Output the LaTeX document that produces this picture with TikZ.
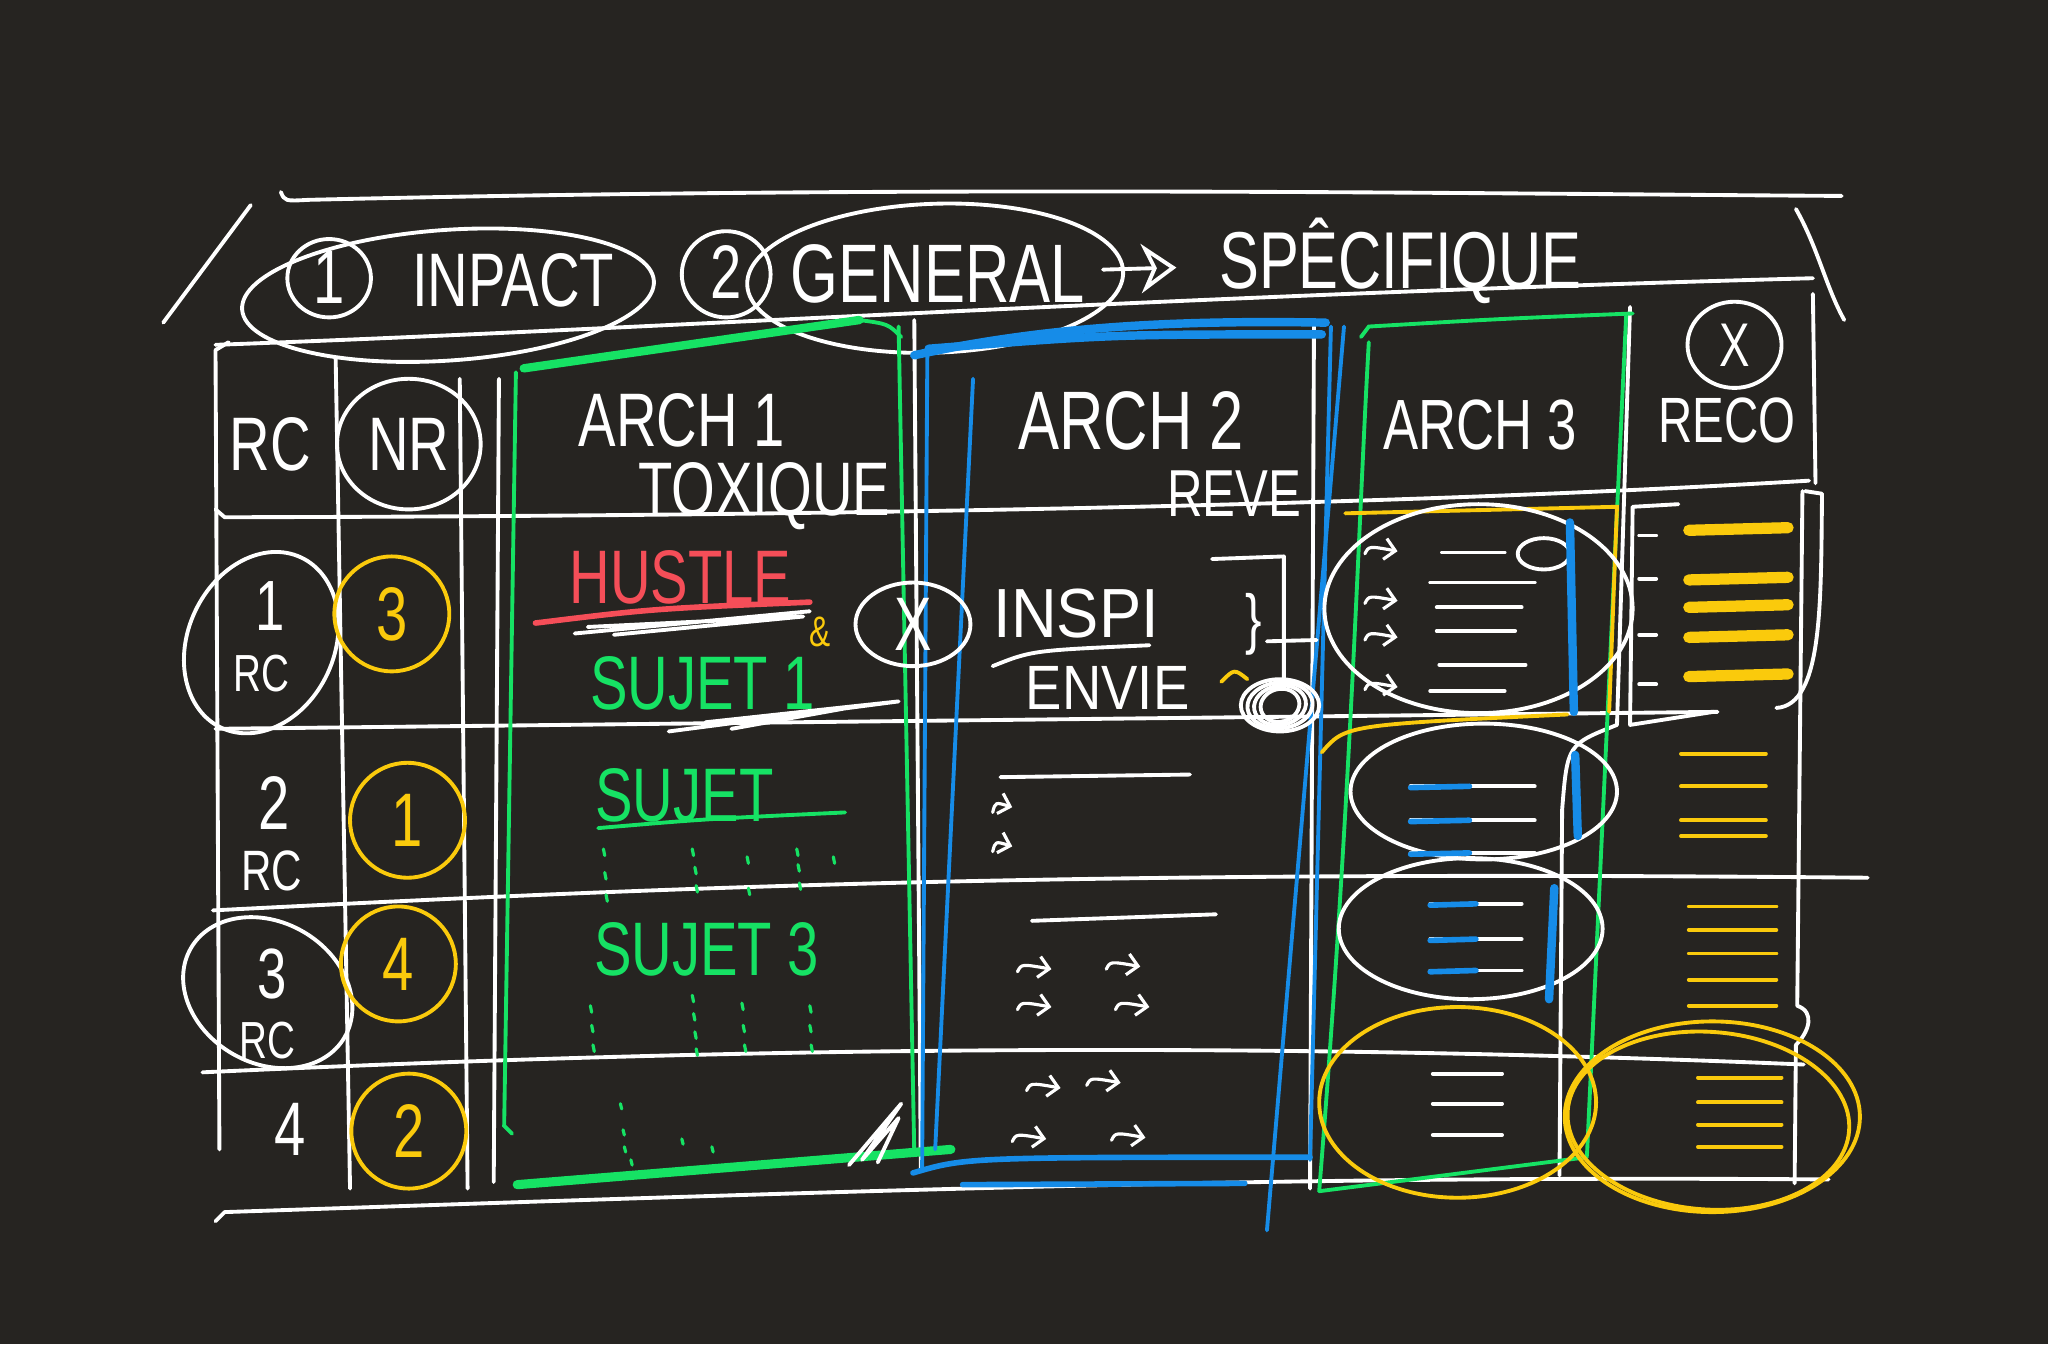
\documentclass[tikz,border=0pt]{standalone}
\usepackage{fontspec}
\setmainfont{Liberation Sans}
\usetikzlibrary{arrows.meta}
\definecolor{board}{RGB}{38,36,33}
\definecolor{pengreen}{RGB}{22,226,100}
\definecolor{penblue}{RGB}{22,140,232}
\definecolor{penyellow}{RGB}{250,202,12}
\definecolor{penred}{RGB}{245,78,88}
\newcommand{\tall}[1]{\scalebox{1}[1.35]{#1}}

\begin{document}
\begin{tikzpicture}[
        x=0.013061cm, y=-0.013061cm,
        chalk/.style={draw=white, line width=1.1pt, line cap=round, line join=round},
        greenpen/.style={draw=pengreen, line width=1.1pt, line cap=round},
        bluepen/.style={draw=penblue, line width=1.1pt, line cap=round},
        yellowpen/.style={draw=penyellow, line width=1.1pt, line cap=round},
        hook/.style={chalk, line width=0.9pt, -{Straight Barb[length=3pt, width=6pt]}}]

    \tikzstyle{every node}=[text=white, inner sep=0pt, font=\fontsize{16}{16}\selectfont]

    \fill[board] (0,0) rectangle (1568,1029);
    \useasboundingbox (0,0) rectangle (1568,1029);

    % header band
    \draw[chalk] (215,147) .. controls (218,154) .. (236,153) .. controls (700,142) and (1100,148) .. (1410,150);
    \draw[chalk] (125,247) -- (192,157);
    \draw[chalk] (1375,160) .. controls (1392,190) and (1398,220) .. (1412,245);
    \draw[chalk] (165,264) .. controls (500,252) and (900,226) .. (1388,213);

    \node (one) at (252,212) {\tall{1}};
    \draw[chalk] (252,213) ellipse [x radius=32, y radius=30];
    \node (impact) at (393,215) {\tall{INPACT}};
    \draw[chalk, rotate around={4:(343,226)}] (343,226) ellipse [x radius=158, y radius=50];
    \node (two) at (556,208) {\tall{2}};
    \draw[chalk] (556,210) ellipse [x radius=34, y radius=33];
    \node[font=\fontsize{17.5}{17.5}\selectfont] (general) at (718,210) {\tall{GENERAL}};
    \draw[chalk, rotate around={2:(716,213)}] (716,213) ellipse [x radius=144, y radius=57];
    \node[font=\fontsize{17}{17}\selectfont] (specific) at (1072,200) {\tall{SPÊCIFIQUE}};
    \draw[chalk, shorten <=5pt, shorten >=12pt, -{Stealth[open, length=10pt, width=14pt]}] (general) -- (specific);

    % grid
    \draw[chalk] (175,262) -- (165,268) -- (168,880);
    \draw[chalk] (257,275) -- (268,910);
    \draw[chalk] (352,290) -- (358,910);
    \draw[chalk] (382,290) -- (378,905);
    \draw[chalk] (700,245) -- (705,895);
    \draw[chalk] (1006,250) -- (1003,910);
    \draw[chalk] (1248,235) -- (1238,555) .. controls (1200,570) .. (1196,620) -- (1194,900);
    \draw[chalk] (1388,225) -- (1390,370);
    \draw[chalk] (1380,376) -- (1376,770) .. controls (1390,775) and (1385,790) .. (1375,800) -- (1374,906);
    \draw[chalk] (165,390) -- (172,396) .. controls (700,395) and (1100,385) .. (1385,368);
    \draw[chalk] (165,558) -- (1315,545);
    \draw[chalk] (163,697) .. controls (500,680) and (800,666) .. (1430,672);
    \draw[chalk] (155,821) .. controls (500,805) and (900,795) .. (1381,815);
    \draw[chalk] (165,935) -- (172,928) .. controls (700,910) and (1000,900) .. (1400,903);

    % column titles
    \node (rc) at (207,340) {\tall{RC}};
    \node (nr) at (313,340) {\tall{NR}};
    \draw[chalk] (313,340) ellipse [x radius=55, y radius=50];
    \node (arch1) at (522,322) {\tall{ARCH 1}};
    \node (toxic) at (585,380) {\tall{TOXIQUE}};
    \node[font=\fontsize{17.5}{17.5}\selectfont] (arch2) at (866,322) {\tall{ARCH 2}};
    \node[font=\fontsize{14}{14}\selectfont] (dream) at (945,378) {\tall{REVE}};
    \node[font=\fontsize{15}{15}\selectfont] (arch3) at (1133,325) {\tall{ARCH 3}};
    \node[font=\fontsize{13.5}{13.5}\selectfont] (reco) at (1322,322) {\tall{RECO}};
    \node[font=\fontsize{13}{13}\selectfont] (recox) at (1328,264) {\tall{X}};
    \draw[chalk] (1328,264) ellipse [x radius=36, y radius=33];

    % RC column
    \node[font=\fontsize{15}{15}\selectfont] (rc1) at (207,464) {\tall{1}};
    \node[font=\fontsize{11}{11}\selectfont] (rc1b) at (200,516) {\tall{RC}};
    \draw[chalk, rotate around={-25:(200,492)}] (200,492) ellipse [x radius=56, y radius=72];
    \node (rc2) at (210,615) {\tall{2}};
    \node[font=\fontsize{12}{12}\selectfont] (rc2b) at (208,667) {\tall{RC}};
    \node[font=\fontsize{15}{15}\selectfont] (rc3) at (208,746) {\tall{3}};
    \node[font=\fontsize{11}{11}\selectfont] (rc3b) at (205,797) {\tall{RC}};
    \draw[chalk, rotate around={-30:(205,760)}] (205,760) ellipse [x radius=68, y radius=54];
    \node (rc4) at (222,865) {\tall{4}};

    % NR column
    \foreach \xx/\yy/\num in {300/470/3, 312/628/1, 305/738/4, 313/866/2} {
        \node[text=penyellow] (nr\num) at (\xx,\yy) {\tall{\num}};
        \draw[yellowpen] (\xx,\yy) ellipse [x radius=44, y radius=44];
    }

    % arch 1 box
    \draw[greenpen, line width=2.4pt] (401,282) -- (658,245);
    \draw[greenpen] (658,245) .. controls (680,248) .. (690,258);
    \draw[greenpen] (395,285) -- (386,862) -- (392,868);
    \draw[greenpen] (688,250) -- (700,883);
    \draw[greenpen, line width=2.6pt] (396,907) -- (728,880);

    \node[text=penred] (hustle) at (521,442) {\tall{HUSTLE}};
    \draw[draw=penred, line width=1.6pt, line cap=round] (410,477) .. controls (500,466) .. (620,461);
    \draw[chalk] (440,485) -- (620,468) (450,480) -- (615,472) -- (470,486);
    \node[text=penyellow, font=\fontsize{9}{9}\selectfont] (amp) at (628,484) {\tall{\&}};
    \node[text=pengreen] (subj1) at (538,523) {\tall{SUJET 1}};
    \draw[chalk] (512,560) -- (688,537) -- (540,553) -- (660,540) -- (560,558);
    \node[text=pengreen] (subj2) at (524,609) {\tall{SUJET}};
    \draw[greenpen] (458,634) .. controls (540,627) .. (647,622);
    \foreach \xx/\yy in {462/650, 463/668, 464/685, 530/650, 532/664, 533/678, 572/656, 573/680, 610/650, 611/662, 612/676, 638/656}
        \draw[greenpen, line width=0.9pt] (\xx,\yy) -- ++(1,5);
    \node[text=pengreen] (subj3) at (541,727) {\tall{SUJET 3}};
    \foreach \xx/\yy in {452/770, 453/785, 454/800, 530/762, 531/776, 532/790, 533/803, 568/768, 569/785, 570/800, 620/770, 620/785, 621/800}
        \draw[greenpen, line width=0.9pt] (\xx,\yy) -- ++(1,5);
    \foreach \xx/\yy in {475/845, 477/865, 478/878, 483/888, 522/872, 545/878}
        \draw[greenpen, line width=0.9pt] (\xx,\yy) -- ++(1,4);
    \draw[chalk] (650,892) -- (690,845) -- (660,888) -- (688,856) -- (672,890);

    % arch 2 box
    \draw[bluepen, line width=2.4pt] (700,272) .. controls (800,250) and (900,245) .. (1015,247);
    \draw[bluepen, line width=2.4pt] (711,267) .. controls (850,256) .. (1012,256);
    \draw[bluepen] (710,270) -- (706,895);
    \draw[bluepen] (745,290) -- (716,880);
    \draw[bluepen] (1019,250) -- (1003,888);
    \draw[bluepen] (1029,250) -- (970,942);
    \draw[bluepen, line width=1.6pt] (699,898) .. controls (740,886) .. (1003,886);
    \draw[bluepen, line width=1.6pt] (737,907) -- (953,906);

    \node (cross) at (699,478) {\tall{X}};
    \draw[chalk] (699,478) ellipse [x radius=44, y radius=32];
    \node[font=\fontsize{18}{18}\selectfont] (inspi) at (824,470) {\scalebox{1}[1.1]{INSPI}};
    \draw[chalk] (760,510) .. controls (790,498) .. (880,494);
    \node[font=\fontsize{15.5}{15.5}\selectfont] (envy) at (848,527) {\scalebox{1}[1.15]{ENVIE}};
    \draw[chalk] (928,428) -- (983,426) -- (983,522);
    \node[font=\fontsize{14}{14}\selectfont] (brace) at (960,478) {\tall{\}}};
    \draw[chalk] (970,491) -- (1008,490);
    \draw[yellowpen] (935,522) .. controls (945,512) .. (955,520);
    \foreach \rr in {0,5,10,15}
        \draw[chalk, rotate around={\rr:(980,540)}] (980,540) ellipse [x radius={30-\rr}, y radius={20-\rr/2}];
    \draw[chalk] (766,595) -- (911,593);
    \draw[hook] (760,622) .. controls (762,614) .. (775,618);
    \draw[hook] (760,652) .. controls (762,644) .. (775,648);
    \draw[chalk] (790,705) -- (931,700);
    \foreach \xx/\yy in {779/744, 847/742, 779/773, 854/773, 786/835, 832/831, 775/874, 851/873}
        \draw[hook] (\xx,\yy) .. controls (\xx+3,\yy-6) .. (\xx+26,\yy-2);

    % arch 3 box
    \draw[greenpen] (1042,258) -- (1048,250) .. controls (1150,244) .. (1250,240);
    \draw[greenpen] (1048,262) .. controls (1040,400) and (1035,600) .. (1010,912);
    \draw[greenpen] (1245,242) -- (1215,885);
    \draw[greenpen] (1010,912) -- (1215,886);
    \draw[yellowpen] (1030,393) -- (1238,388) -- (1232,545);
    \draw[yellowpen] (1012,576) .. controls (1030,555) .. (1200,547);

    \draw[chalk] (1132,466) ellipse [x radius=118, y radius=80];
    \draw[chalk] (1182,424) ellipse [x radius=20, y radius=12];
    \foreach \yy/\xa/\xb in {423/1104/1152, 446/1095/1175, 465/1100/1165, 483/1100/1160, 509/1102/1168, 529/1095/1152}
        \draw[chalk] (\xa,\yy) -- (\xb,\yy);
    \foreach \yy in {424, 462, 490, 528}
        \draw[hook] (1045,\yy) .. controls (1048,\yy-6) .. (1070,\yy-2);
    \draw[bluepen, line width=2.4pt] (1202,400) -- (1205,545);

    \draw[chalk] (1136,606) ellipse [x radius=102, y radius=52];
    \foreach \yy in {602, 628, 653} {
        \draw[chalk] (1080,\yy) -- (1175,\yy);
        \draw[bluepen, line width=1.6pt] (1080,\yy+1) -- (1125,\yy);
    }
    \draw[bluepen, line width=2.4pt] (1206,578) -- (1208,640);

    \draw[chalk] (1126,711) ellipse [x radius=101, y radius=54];
    \foreach \yy in {692, 719, 743} {
        \draw[chalk] (1095,\yy) -- (1165,\yy);
        \draw[bluepen, line width=1.6pt] (1095,\yy+1) -- (1130,\yy);
    }
    \draw[bluepen, line width=2.4pt] (1190,680) -- (1186,765);

    \draw[yellowpen] (1116,844) ellipse [x radius=106, y radius=73];
    \foreach \yy in {822, 845, 869}
        \draw[chalk] (1097,\yy) -- (1150,\yy);

    % reco column
    \draw[chalk] (1285,386) -- (1250,388) -- (1248,555) -- (1312,545);
    \draw[chalk] (1382,376) -- (1395,378) .. controls (1394,460) and (1396,540) .. (1360,542);
    \foreach \yy in {410, 443, 486, 524}
        \draw[chalk] (1255,\yy) -- (1268,\yy);
    \foreach \yy in {406, 444, 465, 488, 518}
        \draw[yellowpen, line width=3.2pt] (1293,\yy) -- (1369,\yy-2);
    \foreach \yy in {577, 602, 628, 640}
        \draw[yellowpen] (1287,\yy) -- (1352,\yy);
    \foreach \yy in {694, 712, 730, 750, 770}
        \draw[yellowpen] (1293,\yy) -- (1360,\yy);
    \foreach \yy in {825, 844, 861, 878}
        \draw[yellowpen] (1300,\yy) -- (1364,\yy);
    \draw[yellowpen] (1311,855) ellipse [x radius=113, y radius=73];
    \draw[yellowpen, rotate around={-4:(1308,858)}] (1308,858) ellipse [x radius=108, y radius=68];
\end{tikzpicture}
\end{document}
